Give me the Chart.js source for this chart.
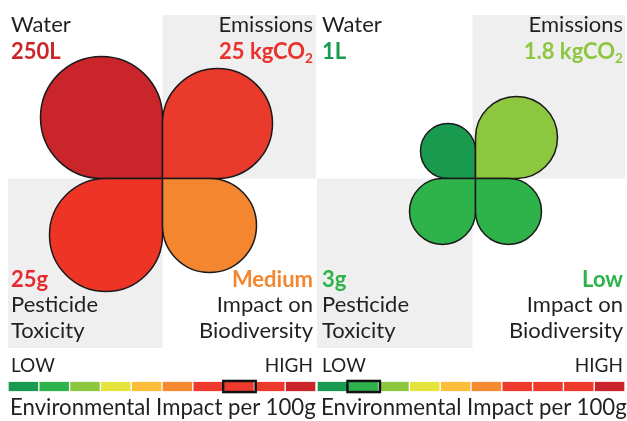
<!DOCTYPE html>
<html>
<head>
<meta charset="utf-8">
<script src="https://cdn.jsdelivr.net/npm/chart.js@4"></script>
<style>
  html, body { margin: 0; padding: 0; background: #fff; }
  body { width: 627px; height: 421px; position: relative; overflow: hidden;
         font-family: Lato, "Open Sans", sans-serif; color: #231f20; }
  canvas { position: absolute; }
  .t { position: absolute; line-height: 1.2; white-space: nowrap; }
  .t sub { font-size: 0.62em; vertical-align: -0.28em; line-height: 0; }
</style>
</head>
<body>
<canvas id="flowerA" width="308" height="333" style="left:8px;top:15px"></canvas>
<canvas id="flowerB" width="308" height="333" style="left:317px;top:15px"></canvas>
<canvas id="scaleA" width="308" height="15" style="left:8px;top:379px"></canvas>
<canvas id="scaleB" width="308" height="15" style="left:317px;top:379px"></canvas>
<script>
// petal order: top-left, top-right, bottom-left, bottom-right
const categories = ['Water', 'Emissions', 'Pesticide|Toxicity', 'Impact on|Biodiversity'];
const valuesA = ['250L', '25 kgCO<sub>2</sub>', '25g', 'Medium'];
const valuesB = ['1L', '1.8 kgCO<sub>2</sub>', '3g', 'Low'];
const petalsA = [122, 110, 113, 94];
const petalsB = [55, 82, 66, 66];
const colorsA = ['#c9252a', '#ea3a2c', '#ee3424', '#f3862e'];
const colorsB = ['#1a9a4e', '#8dc63f', '#2db34a', '#2db34a'];
const textA = ['#c9252a', '#e8322b', '#e42a2f', '#f3862e'];
const textB = ['#1a9a4e', '#8dc63f', '#2db34a', '#2db34a'];
const scaleLabels = ['LOW', 'HIGH'];
const scaleColors = ['#1a9a50', '#2eb24b', '#8dc63f', '#e4e43c', '#fbbd3a',
                     '#f58a30', '#ee3a2c', '#ee3a2c', '#ec3a2c', '#c9252a'];
const levelA = 7;
const levelB = 1;
const footer = 'Environmental Impact per 100g';

const DIR_X = [-1, 1, -1, 1];
const DIR_Y = [1, 1, -1, -1];

function petalPath(ctx, l, t, r, b, rad) {
  ctx.beginPath();
  ctx.moveTo(l + rad.tl, t);
  ctx.lineTo(r - rad.tr, t);
  ctx.arcTo(r, t, r, t + rad.tr, rad.tr);
  ctx.lineTo(r, b - rad.br);
  ctx.arcTo(r, b, r - rad.br, b, rad.br);
  ctx.lineTo(l + rad.bl, b);
  ctx.arcTo(l, b, l, b - rad.bl, rad.bl);
  ctx.lineTo(l, t + rad.tl);
  ctx.arcTo(l, t, l + rad.tl, t, rad.tl);
  ctx.closePath();
}

const quadrants = {
  id: 'quadrants',
  beforeDatasetsDraw(chart, args, opts) {
    const { ctx, chartArea: a, scales: { x, y } } = chart;
    const cx = x.getPixelForValue(opts.divider), cy = y.getPixelForValue(0);
    ctx.save();
    ctx.fillStyle = '#efefef';
    ctx.fillRect(cx, a.top, a.right - cx, cy - a.top);
    ctx.fillRect(a.left, cy, cx - a.left, a.bottom - cy);
    ctx.restore();
  }
};

const petals = {
  id: 'petals',
  afterDatasetsDraw(chart) {
    const { ctx, scales: { x, y } } = chart;
    const ds = chart.data.datasets[0];
    const x0 = x.getPixelForValue(0), y0 = y.getPixelForValue(0);
    ctx.save();
    ds.data.forEach((p, i) => {
      const x1 = x.getPixelForValue(p.x), y1 = y.getPixelForValue(p.y);
      const l = Math.min(x0, x1), r = Math.max(x0, x1);
      const t = Math.min(y0, y1), b = Math.max(y0, y1);
      const h = (r - l) / 2;
      const rad = { tl: h, tr: h, br: h, bl: h };
      if (x1 < x0 && y1 < y0) rad.br = 0;
      if (x1 > x0 && y1 < y0) rad.bl = 0;
      if (x1 < x0 && y1 > y0) rad.tr = 0;
      if (x1 > x0 && y1 > y0) rad.tl = 0;
      petalPath(ctx, l, t, r, b, rad);
      ctx.fillStyle = ds.backgroundColor[i];
      ctx.fill();
      ctx.lineWidth = 1.5;
      ctx.strokeStyle = '#1a1a1a';
      ctx.stroke();
    });
    ctx.restore();
  }
};

function flower(id, sizes, colors, xMin, xMax, divider) {
  new Chart(document.getElementById(id), {
    type: 'scatter',
    data: {
      datasets: [{
        data: sizes.map((s, i) => ({ x: DIR_X[i] * s, y: DIR_Y[i] * s })),
        backgroundColor: colors, pointRadius: 0,
      }],
    },
    options: {
      responsive: false, animation: false, events: [],
      layout: { padding: 0 },
      plugins: { legend: { display: false }, tooltip: { enabled: false }, quadrants: { divider } },
      scales: {
        x: { type: 'linear', min: xMin, max: xMax, display: false },
        y: { type: 'linear', min: -169.5, max: 163.5, display: false },
      },
    },
    plugins: [quadrants, petals],
  });
}

const highlight = {
  id: 'highlight',
  afterDatasetsDraw(chart, args, opts) {
    const el = chart.getDatasetMeta(opts.level).data[0];
    const { x, base, y, height } = el.getProps(['x', 'base', 'y', 'height'], true);
    const l = Math.min(x, base), r = Math.max(x, base);
    const { ctx } = chart;
    ctx.save();
    ctx.lineWidth = 2.5;
    ctx.strokeStyle = '#111';
    ctx.strokeRect(l - 0.3, y - height / 2 - 0.8, r - l + 1.6, height + 1.6);
    ctx.restore();
  }
};

function scaleBar(id, level) {
  new Chart(document.getElementById(id), {
    type: 'bar',
    data: {
      labels: ['impact'],
      datasets: scaleColors.map(c => ({
        data: [1], backgroundColor: c, borderColor: '#fff',
        borderWidth: { left: 1, right: 1, top: 0, bottom: 0 },
        borderSkipped: false, barThickness: 9.5,
      })),
    },
    options: {
      indexAxis: 'y', responsive: false, animation: false, events: [],
      layout: { padding: 0 },
      plugins: { legend: { display: false }, tooltip: { enabled: false }, highlight: { level } },
      scales: {
        x: { stacked: true, min: 0, max: scaleColors.length, display: false },
        y: { stacked: true, display: false },
      },
    },
    plugins: [highlight],
  });
}

flower('flowerA', petalsA, colorsA, -154.5, 153.5, 0);
flower('flowerB', petalsB, colorsB, -158.5, 149.5, -3);
scaleBar('scaleA', levelA);
scaleBar('scaleB', levelB);

// text labels
function addText(html, x, baseline, size, opts = {}) {
  const d = document.createElement('div');
  d.className = 't';
  d.innerHTML = html;
  d.style.fontSize = size + 'px';
  d.style.top = (baseline - 0.987 * size) + 'px';
  if (opts.right) d.style.right = (627 - x) + 'px'; else d.style.left = x + 'px';
  if (opts.bold) d.style.fontWeight = 'bold';
  if (opts.color) d.style.color = opts.color;
  document.body.appendChild(d);
}

function panelText(left, right, values, colors) {
  const F = 22;
  addText(categories[0], left, 33, F);
  addText(values[0], left, 60, F, { bold: true, color: colors[0] });
  addText(categories[1], right, 33, F, { right: true });
  addText(values[1], right, 60, F, { bold: true, color: colors[1], right: true });
  const [p1, p2] = categories[2].split('|');
  addText(values[2], left, 288, F, { bold: true, color: colors[2] });
  addText(p1, left, 313, F);
  addText(p2, left, 339, F);
  const [b1, b2] = categories[3].split('|');
  addText(values[3], right, 288, F, { bold: true, color: colors[3], right: true });
  addText(b1, right, 313, F, { right: true });
  addText(b2, right, 339, F, { right: true });
  addText(scaleLabels[0], left, 372.7, 19);
  addText(scaleLabels[1], right, 372.7, 19, { right: true });
  addText(footer, left - 1, 415.5, 22.2);
}

panelText(11, 313, valuesA, textA);
panelText(322, 623, valuesB, textB);
</script>
</body>
</html>
